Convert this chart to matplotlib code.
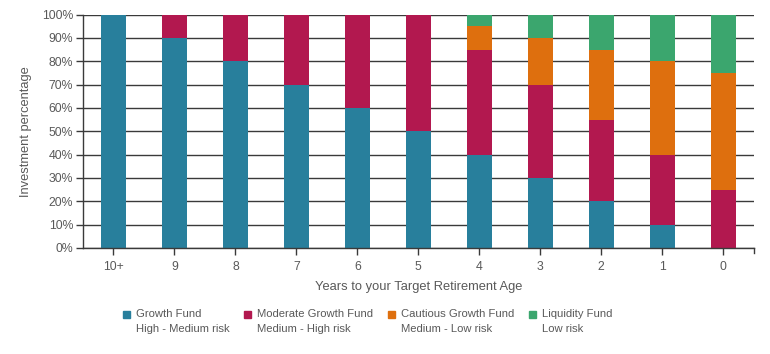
import matplotlib
matplotlib.use("Agg")
import matplotlib.pyplot as plt
from matplotlib.patches import Rectangle
import numpy as np

categories = ["10+", "9", "8", "7", "6", "5", "4", "3", "2", "1", "0"]
growth = [100, 90, 80, 70, 60, 50, 40, 30, 20, 10, 0]
moderate = [0, 10, 20, 30, 40, 50, 45, 40, 35, 30, 25]
cautious = [0, 0, 0, 0, 0, 0, 10, 20, 30, 40, 50]
liquidity = [0, 0, 0, 0, 0, 0, 5, 10, 15, 20, 25]

series_names = ["Growth Fund", "Moderate Growth Fund", "Cautious Growth Fund", "Liquidity Fund"]
series_risk = ["High - Medium risk", "Medium - High risk", "Medium - Low risk", "Low risk"]
colors = ["#287F9C", "#B2184F", "#DE6F0E", "#3BA66E"]

plt.rcParams['font.family'] = ['Liberation Sans', 'DejaVu Sans']
text_color = "#595959"

W, H = 770, 354
fig = plt.figure(figsize=(W / 100, H / 100), dpi=100)
left, right, top, bottom = 83, 753.5, 14.5, 248
ax = fig.add_axes([left / W, 1 - bottom / H, (right - left) / W, (bottom - top) / H])

x = np.arange(len(categories))
bw = 0.41
base = np.zeros(len(categories))
for vals, c in zip([growth, moderate, cautious, liquidity], colors):
    v = np.array(vals, dtype=float)
    ax.bar(x, v, bw, bottom=base, color=c, zorder=2, linewidth=0)
    base += v

ax.set_xlim(-0.5, len(categories) - 0.5)
ax.set_ylim(0, 100)
yt = np.arange(0, 101, 10)
ax.set_yticks(yt)
ax.set_yticklabels([f"{v}%" for v in yt])
ax.set_xticks(x)
ax.set_xticklabels(categories)
ax.yaxis.grid(True, color="#3a3a3a", linewidth=1.0, zorder=0)
ax.set_axisbelow(True)
for s in ["top", "right"]:
    ax.spines[s].set_visible(False)
for s in ["left", "bottom"]:
    ax.spines[s].set_color("#3a3a3a")
    ax.spines[s].set_linewidth(1.0)
ax.tick_params(axis="y", length=5, width=1, color="#3a3a3a", labelsize=8.8, labelcolor=text_color, pad=2)
ax.tick_params(axis="x", length=5, width=1, color="#3a3a3a", labelsize=8.8, labelcolor=text_color, pad=4)
# extra tick at right end
ax.plot([len(categories) - 0.5] * 2, [0, -2.2], color="#3a3a3a", lw=1, clip_on=False)

ax.set_xlabel("Years to your Target Retirement Age", fontsize=9.3, color=text_color, labelpad=6)
ax.set_ylabel("Investment percentage", fontsize=9.3, color=text_color, labelpad=7)

# legend
leg_x = [127, 248, 392, 533]
for lx, name, risk, c in zip(leg_x, series_names, series_risk, colors):
    fig.patches.append(Rectangle(((lx - 4) / W, 1 - 318 / H), 7 / W, 7 / H,
                                 transform=fig.transFigure, color=c))
    fig.text((lx + 9) / W, 1 - 314 / H, name, fontsize=8.1, color=text_color, va="center", ha="left")
    fig.text((lx + 9) / W, 1 - 329.5 / H, risk, fontsize=8.1, color=text_color, va="center", ha="left")

fig.savefig("out.png", dpi=100)
